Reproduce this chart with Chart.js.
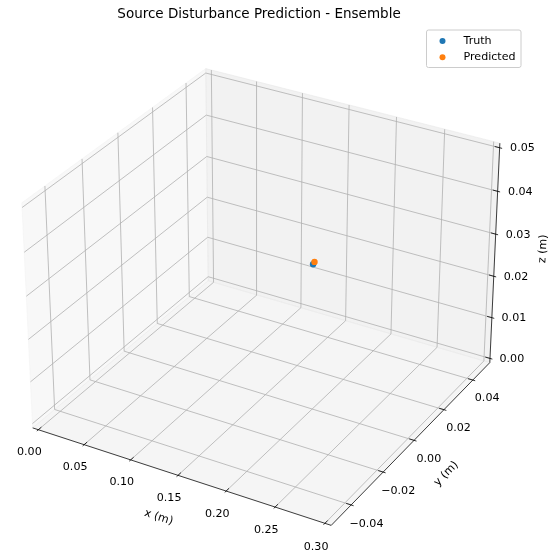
<!DOCTYPE html>
<html>
<head>
<meta charset="utf-8">
<title>Source Disturbance Prediction - Ensemble</title>
<script src="https://cdn.jsdelivr.net/npm/chart.js@4.4.0/dist/chart.umd.min.js"></script>
<style>
  html, body { margin: 0; padding: 0; background: #fff; }
  #wrap { width: 559px; height: 557px; }
</style>
</head>
<body>
<div id="wrap"><canvas id="chart" width="559" height="557"></canvas></div>
<script>
// --- data -------------------------------------------------------------
const TITLE = 'Source Disturbance Prediction - Ensemble';
const SERIES_NAMES = ['Truth', 'Predicted'];
const SERIES_COLORS = ['#1f77b4', '#ff7f0e'];
const TRUTH_XYZ = [[0.168, 0.019, 0.025]];
const PRED_XYZ = [[0.167, 0.0205, 0.025]];

const X_LIM = [0, 0.3];
const Y_LIM = [-0.05, 0.05];
const Z_LIM = [0, 0.05];
const X_TICKS = [0, 0.05, 0.10, 0.15, 0.20, 0.25, 0.30];
const Y_TICKS = [-0.04, -0.02, 0, 0.02, 0.04];
const Z_TICKS = [0, 0.01, 0.02, 0.03, 0.04, 0.05];
const AXIS_TITLES = ['x (m)', 'y (m)', 'z (m)'];

// --- 3d view (same maths as a default mpl 3d axes: elev 30, azim -60) --
const ELEV = 30, AZIM = -60, DIST = 10;
const LIMS = [X_LIM, Y_LIM, Z_LIM];
const TICKS = [X_TICKS, Y_TICKS, Z_TICKS];
const BOX = [4, 4, 3].map(v => v * 1.8294640721620434 / Math.hypot(4, 4, 3));

const rad = d => d * Math.PI / 180;
const dot = (a, b) => a[0]*b[0] + a[1]*b[1] + a[2]*b[2];
const cross = (a, b) => [a[1]*b[2] - a[2]*b[1], a[2]*b[0] - a[0]*b[2], a[0]*b[1] - a[1]*b[0]];
const unit = a => { const n = Math.hypot(...a); return a.map(v => v / n); };

const W = [Math.cos(rad(ELEV)) * Math.cos(rad(AZIM)), Math.cos(rad(ELEV)) * Math.sin(rad(AZIM)), Math.sin(rad(ELEV))];
const U = unit(cross([0, 0, 1], W));
const V = cross(W, U);

function proj(p){
  const q = p.map((v, i) => ((v - LIMS[i][0]) / (LIMS[i][1] - LIMS[i][0]) - 0.5) * BOX[i]);
  const d = DIST - dot(W, q);
  return { x: dot(U, q) / d, y: dot(V, q) / d };
}

const span = i => LIMS[i][1] - LIMS[i][0];
const LO = LIMS.map((l, i) => l[0] - span(i) / 48);   // panes sit a bit outside the limits
const HI = LIMS.map((l, i) => l[1] + span(i) / 48);
const MID = LIMS.map(l => (l[0] + l[1]) / 2);
const DELTA = LIMS.map((l, i) => span(i) / 12);

const CORNER = [LO[0], HI[1], LO[2]];     // where the three visible panes meet
const OPPOSITE = [HI[0], LO[1], HI[2]];
const EDGE = [[0, LO[1], LO[2]], [HI[0], 0, LO[2]], [HI[0], HI[1], 0]];
const TICKDIR = [1, 0, 0];
const DPP = 0.054;
const TICKLABEL_OFF = (3.5 + 8) * DPP;
const AXISLABEL_OFF = (4 + 21) * DPP;

const fmtTick = v => (v < 0 ? '\u2212' : '') + Math.abs(v).toFixed(2);

function moveOut(p, axis, f){
  return p.map((v, k) => k === axis ? v : v + f * DELTA[k] * Math.sign(v - MID[k]));
}

// --- datasets -------------------------------------------------------------
const datasets = [];
const lineDs = (pts, color, width, order, fill) => ({
  data: pts.map(proj), showLine: true, borderColor: color, backgroundColor: color,
  borderWidth: width, pointRadius: 0, pointHoverRadius: 0, fill: fill || false, order
});

// panes: x = min, y = max, z = min
const PANES = [
  { color: 'rgba(242,242,242,0.5)', pts: [[LO[0],LO[1],LO[2]],[LO[0],HI[1],LO[2]],[LO[0],HI[1],HI[2]],[LO[0],LO[1],HI[2]],[LO[0],LO[1],LO[2]]] },
  { color: 'rgba(230,230,230,0.5)', pts: [[LO[0],HI[1],LO[2]],[HI[0],HI[1],LO[2]],[HI[0],HI[1],HI[2]],[LO[0],HI[1],HI[2]],[LO[0],HI[1],LO[2]]] },
  { color: 'rgba(236,236,236,0.5)', pts: [[LO[0],LO[1],LO[2]],[HI[0],LO[1],LO[2]],[HI[0],HI[1],LO[2]],[LO[0],HI[1],LO[2]],[LO[0],LO[1],LO[2]]] }
];
PANES.forEach((p, i) => datasets.push(lineDs(p.pts, p.color, 1, 9 - i, 'shape')));

// grid lines
TICKS.forEach((ticks, i) => {
  ticks.forEach(t => {
    const mid = CORNER.slice(); mid[i] = t;
    const a = mid.slice(); a[(i + 1) % 3] = OPPOSITE[(i + 1) % 3];
    const b = mid.slice(); b[(i + 2) % 3] = OPPOSITE[(i + 2) % 3];
    datasets.push(lineDs([a, mid, b], '#b0b0b0', 0.8, 5));
  });
});

// axis lines + tick marks
EDGE.forEach((e, i) => {
  const a = e.slice(); a[i] = LO[i];
  const b = e.slice(); b[i] = HI[i];
  datasets.push(lineDs([a, b], '#000', 0.75, 3));
  const td = TICKDIR[i];
  const s = Math.sign(e[td] - MID[td]);
  TICKS[i].forEach(t => {
    const p1 = e.slice(); p1[i] = t; p1[td] = e[td] + 0.1 * s * DELTA[td];
    const p2 = e.slice(); p2[i] = t; p2[td] = e[td] - 0.2 * s * DELTA[td];
    datasets.push(lineDs([p1, p2], '#000', 0.8, 3));
  });
});

// the two series
[TRUTH_XYZ, PRED_XYZ].forEach((pts, k) => {
  datasets.push({
    label: SERIES_NAMES[k], isSeries: true,
    data: pts.map(proj), showLine: false,
    backgroundColor: SERIES_COLORS[k], borderColor: SERIES_COLORS[k], borderWidth: 0,
    pointRadius: 3.2, pointHoverRadius: 3.2, order: 1 - k
  });
});

// --- text: tick labels, axis titles, title, legend ------------------------
const FONT = '"DejaVu Sans", "Liberation Sans", sans-serif';
const TICK_PX = 11.1, TITLE_PX = 13.5;
const textPlugin = {
  id: 'text3d',
  afterDraw(chart){
    const {ctx, scales: {x: sx, y: sy}} = chart;
    const px = p => { const q = proj(p); return [sx.getPixelForValue(q.x), sy.getPixelForValue(q.y)]; };
    ctx.save();
    ctx.fillStyle = '#000';
    ctx.font = TICK_PX + 'px ' + FONT;
    ctx.textAlign = 'center';
    ctx.textBaseline = 'middle';

    EDGE.forEach((e, i) => {
      TICKS[i].forEach(t => {
        const p = e.slice(); p[i] = t;
        const [lx, ly] = px(moveOut(p, i, TICKLABEL_OFF));
        ctx.fillText(fmtTick(t), lx, ly + 3.5);
      });
      const a = e.slice(); a[i] = LO[i];
      const b = e.slice(); b[i] = HI[i];
      const m = e.slice(); m[i] = (LO[i] + HI[i]) / 2;
      const [ax, ay] = px(a), [bx, by] = px(b);
      let ang = Math.atan2(by - ay, bx - ax);
      if (ang > Math.PI / 2) ang -= Math.PI;
      if (ang < -Math.PI / 2) ang += Math.PI;
      const [lx, ly] = px(moveOut(m, i, AXISLABEL_OFF));
      ctx.save();
      ctx.translate(lx, ly);
      ctx.rotate(ang);
      ctx.fillText(AXIS_TITLES[i], 0, 0);
      ctx.restore();
    });

    // title
    ctx.font = TITLE_PX + 'px ' + FONT;
    ctx.textBaseline = 'alphabetic';
    ctx.fillText(TITLE, 259, 18.3);

    // legend (upper right)
    const series = chart.data.datasets.filter(d => d.isSeries);
    const bx = 426.5, by = 30, bw = 94.5, bh = 37.5;
    ctx.beginPath();
    ctx.roundRect(bx, by, bw, bh, 2);
    ctx.fillStyle = 'rgba(255,255,255,0.8)';
    ctx.fill();
    ctx.strokeStyle = '#cccccc';
    ctx.lineWidth = 1;
    ctx.stroke();
    ctx.font = TICK_PX + 'px ' + FONT;
    ctx.textAlign = 'left';
    ctx.textBaseline = 'middle';
    series.forEach((d, k) => {
      const y = by + 11 + k * 16.3;
      ctx.beginPath();
      ctx.arc(bx + 16, y, 3, 0, Math.PI * 2);
      ctx.fillStyle = d.backgroundColor;
      ctx.fill();
      ctx.fillStyle = '#000';
      ctx.fillText(d.label, bx + 37, y);
    });
    ctx.restore();
  }
};

new Chart(document.getElementById('chart'), {
  type: 'scatter',
  data: { datasets },
  options: {
    responsive: false,
    animation: false,
    events: [],
    layout: { padding: 0 },
    plugins: { legend: { display: false }, title: { display: false }, tooltip: { enabled: false } },
    scales: {
      x: { type: 'linear', display: false, min: -0.091294, max: 0.101067, bounds: 'data' },
      y: { type: 'linear', display: false, min: -0.093221, max: 0.098452, bounds: 'data' }
    }
  },
  plugins: [textPlugin]
});
</script>
</body>
</html>
